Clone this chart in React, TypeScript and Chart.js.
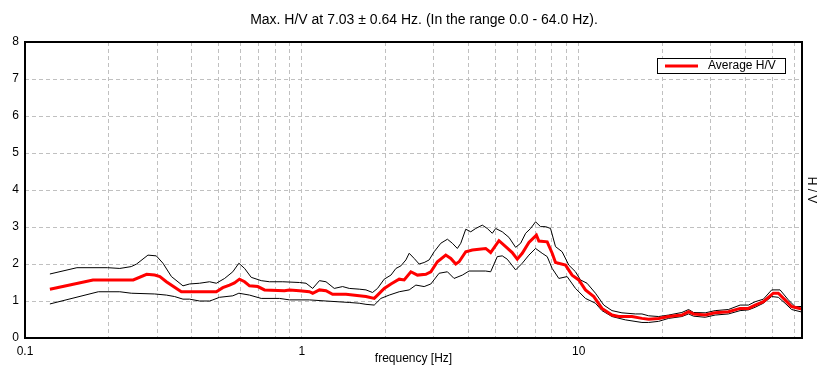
import React, { useEffect, useRef } from "react";
import { Chart, registerables } from "chart.js";

Chart.register(...registerables);

const titleText = "Max. H/V at 7.03 \u00b1 0.64 Hz. (In the range 0.0 - 64.0 Hz).";
const xTitle = "frequency [Hz]";
const yTitle = "H / V";
const legendLabel = "Average H/V";

const xGridValues = [0.1, 0.2, 0.3, 0.4, 0.5, 0.6, 0.7, 0.8, 0.9, 1, 2, 3, 4, 5, 6, 7, 8, 9, 10, 20, 30, 40, 50, 60];
const xLabeled = [0.1, 1, 10];
const yTickValues = [0, 1, 2, 3, 4, 5, 6, 7, 8];

const freqAvg = [0.123, 0.176, 0.246, 0.275, 0.294, 0.307, 0.324, 0.367, 0.491, 0.518, 0.548, 0.571, 0.595, 0.621, 0.647, 0.693, 0.733, 0.865, 0.902, 0.98, 1.064, 1.094, 1.157, 1.222, 1.291, 1.443, 1.611, 1.704, 1.825, 1.876, 1.983, 2.097, 2.246, 2.341, 2.475, 2.614, 2.803, 2.922, 3.086, 3.308, 3.45, 3.596, 3.696, 3.907, 4.126, 4.362, 4.611, 4.806, 5.15, 5.444, 5.75, 5.996, 6.249, 6.605, 7.03, 7.176, 7.69, 8.016, 8.241, 8.955, 9.461, 10.0, 10.57, 11.33, 12.13, 13.18, 13.93, 15.56, 16.91, 17.88, 19.43, 21.11, 23.57, 24.92, 25.97, 28.62, 31.09, 34.72, 38.25, 40.99, 43.34, 46.42, 50.43, 52.56, 55.58, 58.71, 64];
const valAvg = [1.32, 1.57, 1.57, 1.72, 1.70, 1.66, 1.52, 1.25, 1.25, 1.36, 1.43, 1.49, 1.59, 1.52, 1.41, 1.39, 1.30, 1.28, 1.30, 1.28, 1.25, 1.21, 1.30, 1.28, 1.18, 1.18, 1.14, 1.12, 1.07, 1.16, 1.34, 1.46, 1.59, 1.57, 1.79, 1.70, 1.72, 1.79, 2.06, 2.24, 2.15, 2.00, 2.06, 2.33, 2.38, 2.40, 2.42, 2.31, 2.63, 2.47, 2.31, 2.13, 2.29, 2.58, 2.78, 2.62, 2.60, 2.29, 2.04, 1.97, 1.70, 1.57, 1.30, 1.12, 0.80, 0.62, 0.58, 0.58, 0.53, 0.51, 0.53, 0.58, 0.62, 0.71, 0.65, 0.62, 0.68, 0.71, 0.80, 0.80, 0.89, 0.98, 1.21, 1.21, 1.03, 0.85, 0.78];

const freqUpper = [0.123, 0.154, 0.199, 0.22, 0.242, 0.253, 0.278, 0.298, 0.315, 0.338, 0.372, 0.393, 0.427, 0.464, 0.491, 0.526, 0.563, 0.592, 0.621, 0.656, 0.713, 0.764, 0.853, 0.98, 1.035, 1.094, 1.157, 1.222, 1.309, 1.403, 1.483, 1.611, 1.704, 1.799, 1.876, 1.983, 2.097, 2.186, 2.278, 2.375, 2.441, 2.544, 2.651, 2.764, 2.881, 3.003, 3.174, 3.354, 3.495, 3.643, 3.748, 3.907, 4.072, 4.245, 4.483, 4.673, 4.872, 5.011, 5.293, 5.595, 5.915, 6.166, 6.428, 6.7, 6.982, 7.278, 7.586, 7.907, 8.241, 8.708, 9.204, 9.73, 10.14, 10.71, 11.49, 12.31, 13.18, 14.32, 16.01, 16.91, 17.88, 19.43, 21.11, 23.57, 24.92, 25.97, 28.62, 31.09, 34.72, 38.25, 40.99, 43.34, 46.42, 49.74, 53.33, 57.12, 60.38, 64];
const valUpper = [1.73, 1.9, 1.9, 1.88, 1.93, 2.0, 2.24, 2.22, 2.02, 1.66, 1.41, 1.46, 1.48, 1.52, 1.48, 1.61, 1.79, 2.02, 1.88, 1.64, 1.55, 1.52, 1.52, 1.5, 1.48, 1.34, 1.55, 1.52, 1.34, 1.39, 1.34, 1.32, 1.3, 1.23, 1.34, 1.59, 1.7, 1.88, 1.95, 2.11, 2.29, 2.15, 2.0, 2.04, 2.11, 2.33, 2.56, 2.67, 2.56, 2.42, 2.56, 2.94, 2.87, 2.96, 3.05, 2.96, 2.83, 2.96, 2.87, 2.72, 2.45, 2.56, 2.83, 2.96, 3.14, 3.01, 3.01, 2.96, 2.47, 2.33, 1.97, 1.79, 1.57, 1.48, 1.21, 0.89, 0.74, 0.68, 0.65, 0.65, 0.6, 0.58, 0.62, 0.69, 0.77, 0.69, 0.68, 0.74, 0.77, 0.89, 0.89, 0.98, 1.05, 1.3, 1.3, 1.03, 0.85, 0.85];

const freqLower = [0.123, 0.184, 0.22, 0.242, 0.294, 0.324, 0.347, 0.372, 0.393, 0.427, 0.464, 0.477, 0.504, 0.563, 0.592, 0.647, 0.713, 0.83, 0.902, 1.064, 1.222, 1.483, 1.611, 1.704, 1.825, 1.929, 2.067, 2.246, 2.441, 2.58, 2.764, 2.922, 3.13, 3.354, 3.544, 3.798, 4.015, 4.611, 4.806, 5.078, 5.293, 5.516, 5.915, 6.249, 6.605, 6.982, 7.375, 7.69, 8.016, 8.471, 9.076, 9.73, 10.57, 11.49, 12.13, 13.18, 14.73, 16.91, 17.88, 19.43, 21.11, 23.57, 24.92, 25.97, 28.62, 31.09, 34.72, 38.25, 40.99, 43.34, 46.42, 49.74, 52.56, 55.58, 58.71, 64];
const valLower = [0.92, 1.25, 1.25, 1.21, 1.19, 1.16, 1.12, 1.05, 1.05, 1.00, 1.00, 1.03, 1.10, 1.14, 1.21, 1.16, 1.07, 1.07, 1.03, 1.03, 1.00, 0.96, 0.94, 0.91, 0.89, 1.07, 1.16, 1.25, 1.30, 1.43, 1.39, 1.46, 1.75, 1.79, 1.61, 1.70, 1.81, 1.81, 1.79, 2.20, 2.22, 2.13, 1.84, 2.02, 2.24, 2.42, 2.29, 2.20, 1.88, 1.61, 1.66, 1.34, 1.07, 0.94, 0.74, 0.58, 0.49, 0.42, 0.42, 0.45, 0.53, 0.58, 0.65, 0.59, 0.56, 0.62, 0.65, 0.74, 0.76, 0.83, 0.94, 1.12, 1.10, 0.94, 0.77, 0.70];

const FONT = "'Liberation Sans', Arial, sans-serif";

const toPoints = (xs: number[], ys: number[]) => xs.map((x, i) => ({ x, y: ys[i] }));

const decorPlugin = {
  id: "decor",
  afterDraw(chart: any) {
    const { ctx, chartArea } = chart;
    const { left, right, top, bottom } = chartArea;
    ctx.save();
    // frame
    ctx.strokeStyle = "#000";
    ctx.lineWidth = 2;
    ctx.strokeRect(left, top, right - left, bottom - top);
    // title
    ctx.fillStyle = "#000";
    ctx.font = `14px ${FONT}`;
    ctx.textAlign = "center";
    ctx.textBaseline = "middle";
    ctx.fillText(titleText, 424, 20);
    // x title
    ctx.font = `12px ${FONT}`;
    ctx.fillText(xTitle, (left + right) / 2, 359);
    // y title (right, rotated clockwise)
    ctx.save();
    ctx.translate(811, (top + bottom) / 2);
    ctx.rotate(Math.PI / 2);
    ctx.fillText(yTitle, 0, 0);
    ctx.restore();
    // legend
    ctx.fillStyle = "#fff";
    ctx.fillRect(657, 58, 129, 15);
    ctx.strokeStyle = "#000";
    ctx.lineWidth = 1;
    ctx.strokeRect(657.5, 58.5, 128, 15);
    ctx.strokeStyle = "#ff0000";
    ctx.lineWidth = 3;
    ctx.beginPath();
    ctx.moveTo(665, 66);
    ctx.lineTo(698, 66);
    ctx.stroke();
    ctx.fillStyle = "#000";
    ctx.textAlign = "left";
    ctx.fillText(legendLabel, 708, 66);
    ctx.restore();
  },
};

export default function App() {
  const ref = useRef<HTMLCanvasElement>(null);
  useEffect(() => {
    if (!ref.current) return;
    const gridOpts = { color: "#c0c0c0", lineWidth: 1, drawTicks: false };
    const borderOpts = { display: false, dash: [4, 3] };
    const chart = new Chart(ref.current, {
      type: "line",
      data: {
        datasets: [
          {
            label: legendLabel,
            data: toPoints(freqAvg, valAvg),
            borderColor: "#ff0000",
            borderWidth: 3,
            pointRadius: 0,
            tension: 0,
          },
          {
            label: "upper",
            data: toPoints(freqUpper, valUpper),
            borderColor: "#000",
            borderWidth: 1,
            pointRadius: 0,
            tension: 0,
          },
          {
            label: "lower",
            data: toPoints(freqLower, valLower),
            borderColor: "#000",
            borderWidth: 1,
            pointRadius: 0,
            tension: 0,
          },
        ],
      },
      options: {
        responsive: false,
        animation: false,
        devicePixelRatio: 1,
        layout: { padding: { top: 42, right: 24, left: 0, bottom: 0 } },
        plugins: {
          legend: { display: false },
          title: { display: false },
          tooltip: { enabled: false },
        },
        scales: {
          x: {
            type: "logarithmic",
            min: 0.1,
            max: 64,
            afterBuildTicks: (s: any) => {
              s.ticks = xGridValues.map((v) => ({ value: v }));
            },
            afterFit: (s: any) => {
              s.height = 43;
            },
            ticks: {
              autoSkip: false,
              maxRotation: 0,
              minRotation: 0,
              padding: 6,
              color: "#000",
              font: { family: FONT, size: 12 },
              callback: (v: any) => {
                const n = Number(v);
                return xLabeled.some((l) => Math.abs(l - n) < 1e-9) ? String(n) : "";
              },
            },
            grid: gridOpts,
            border: borderOpts,
          },
          y: {
            type: "linear",
            min: 0,
            max: 8,
            afterBuildTicks: (s: any) => {
              s.ticks = yTickValues.map((v) => ({ value: v }));
            },
            afterFit: (s: any) => {
              s.width = 25;
            },
            ticks: {
              padding: 6,
              color: "#000",
              font: { family: FONT, size: 12 },
            },
            grid: gridOpts,
            border: borderOpts,
          },
        },
      },
      plugins: [decorPlugin],
    } as any);
    return () => chart.destroy();
  }, []);
  return (
    <div style={{ position: "fixed", left: 0, top: 0, width: 826, height: 381, background: "#fff" }}>
      <canvas ref={ref} width={826} height={381} style={{ display: "block" }} />
    </div>
  );
}
